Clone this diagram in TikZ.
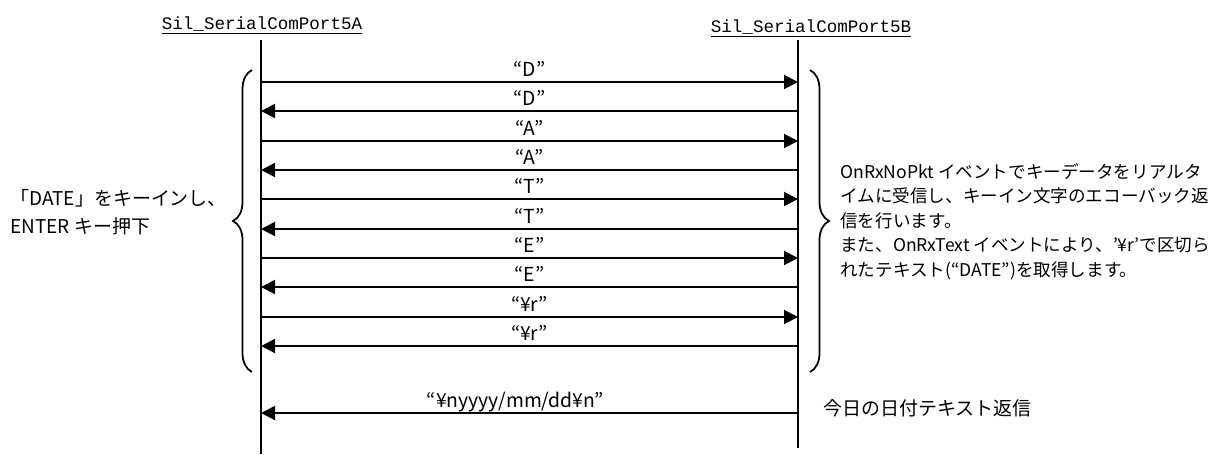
\documentclass[tikz,border=0pt]{standalone}
\usepackage{fontspec}
\usepackage{tikz}
\usetikzlibrary{arrows.meta, decorations.pathreplacing, positioning}
\newfontfamily\jpfont{Noto Sans CJK JP}
\newfontfamily\portfont{Liberation Mono}

\begin{document}
\begin{tikzpicture}[x=0.02cm, y=-0.02cm]
\tikzstyle{lifeline}=[line width=0.9pt]
\tikzstyle{msg}=[line width=1.1pt, -{Triangle[length=0.28cm, width=0.28cm]}]
\tikzstyle{msglbl}=[anchor=base, yshift=3pt, inner sep=0pt, font=\jpfont\fontsize{11}{12}\selectfont]
\tikzstyle{port}=[anchor=base, inner sep=0pt, font=\portfont\fontsize{10}{12}\selectfont]
\tikzstyle{note}=[inner sep=0pt, align=left, font=\jpfont\fontsize{10}{13.9}\selectfont]
\tikzstyle{brc}=[line width=1pt, decorate, decoration={brace, amplitude=0.38cm}]

\useasboundingbox (0,0) rectangle (1226,454);

% lifelines
\node[port] (portA) at (262,29) {\underline{Sil\_SerialComPort5A}};
\node[port] (portB) at (811,32) {\underline{Sil\_SerialComPort5B}};
\coordinate (aTop) at (261,40); \coordinate (aBot) at (261,454);
\coordinate (bTop) at (798,40); \coordinate (bBot) at (798,448);
\draw[lifeline] (aTop) -- (aBot);
\draw[lifeline] (bTop) -- (bBot);

% message ends
\coordinate (a1) at (261,82);  \coordinate (b1) at (798,82);
\coordinate (a2) at (261,111); \coordinate (b2) at (798,111);
\coordinate (a3) at (261,141); \coordinate (b3) at (798,141);
\coordinate (a4) at (261,170); \coordinate (b4) at (798,170);
\coordinate (a5) at (261,199); \coordinate (b5) at (798,199);
\coordinate (a6) at (261,229); \coordinate (b6) at (798,229);
\coordinate (a7) at (261,258); \coordinate (b7) at (798,258);
\coordinate (a8) at (261,287); \coordinate (b8) at (798,287);
\coordinate (a9) at (261,317); \coordinate (b9) at (798,317);
\coordinate (a10) at (261,346); \coordinate (b10) at (798,346);
\coordinate (a11) at (261,413); \coordinate (b11) at (798,413);

% key echo
\draw[msg] (a1) -- node[msglbl] {“D”} (b1);
\draw[msg] (b2) -- node[msglbl] {“D”} (a2);
\draw[msg] (a3) -- node[msglbl] {“A”} (b3);
\draw[msg] (b4) -- node[msglbl] {“A”} (a4);
\draw[msg] (a5) -- node[msglbl] {“T”} (b5);
\draw[msg] (b6) -- node[msglbl] {“T”} (a6);
\draw[msg] (a7) -- node[msglbl] {“E”} (b7);
\draw[msg] (b8) -- node[msglbl] {“E”} (a8);
\draw[msg] (a9) -- node[msglbl] {“¥r”} (b9);
\draw[msg] (b10) -- node[msglbl] {“¥r”} (a10);

% reply
\draw[msg] (b11) -- node[msglbl, xshift=-8pt] {“¥nyyyy/mm/dd¥n”} (a11);

% braces
\coordinate (lbTop) at (252,70); \coordinate (lbBot) at (252,372);
\coordinate (rbTop) at (810,70); \coordinate (rbBot) at (810,372);
\draw[brc] (lbBot) -- (lbTop);
\draw[brc] (rbTop) -- (rbBot);

\node[note, anchor=west, font=\jpfont\fontsize{10.8}{16}\selectfont] (keyin) at (10,212) {「DATE」をキーインし、\\ENTER キー押下};
\node[note, anchor=north west] (events) at (840,163) {OnRxNoPkt イベントでキーデータをリアルタ\\
イムに受信し、キーイン文字のエコーバック返\\
信を行います。\\
また、OnRxText イベントにより、’¥r’で区切ら\\
れたテキスト(“DATE”)を取得します。};
\node[note, anchor=west, font=\jpfont\fontsize{10.8}{13.9}\selectfont] (today) at (823,408) {今日の日付テキスト返信};
\end{tikzpicture}
\end{document}
